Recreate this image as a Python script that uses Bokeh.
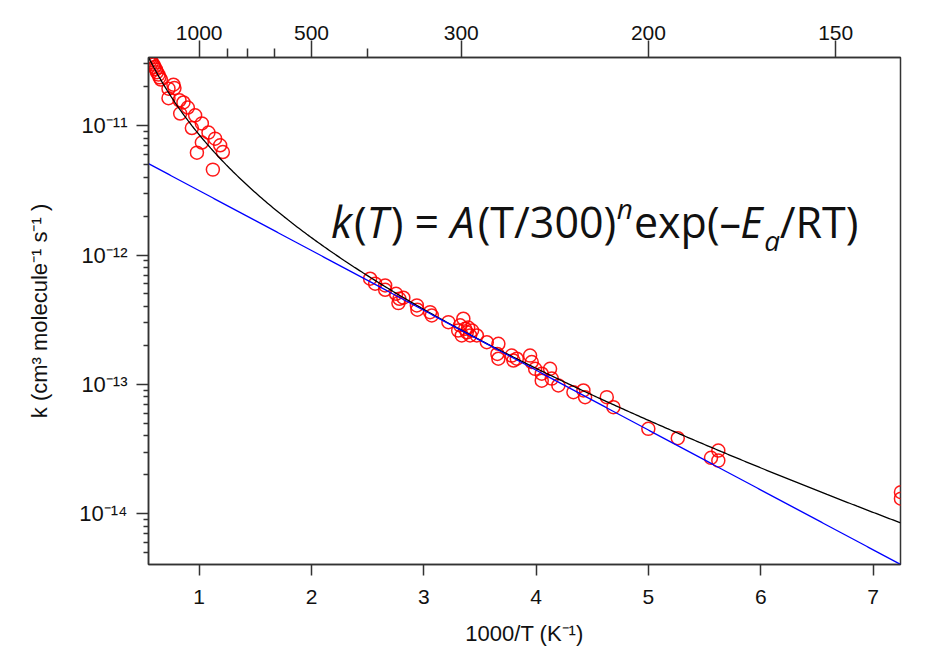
import numpy as np
from bokeh.plotting import figure
from bokeh.models import Range1d, LinearAxis, FixedTicker, Label, CustomJSTickFormatter
from bokeh.embed import file_html
from bokeh.resources import INLINE

# ---------------- data ----------------
inv_T = [0.549, 0.558, 0.570, 0.579, 0.593, 0.602, 0.615, 0.624, 0.638, 0.647, 0.659,
         0.727, 0.771, 0.780, 0.727, 0.825, 0.860, 0.899, 0.831, 0.964, 1.024, 0.935,
         1.083, 1.142, 1.024, 1.187, 1.211, 0.980, 1.122,
         2.522, 2.567, 2.656, 2.656, 2.753, 2.783, 2.818, 2.774, 2.938, 2.943, 3.056,
         3.071, 3.219, 3.352, 3.323, 3.368, 3.383, 3.412, 3.338, 3.472, 3.306, 3.395,
         3.430, 3.561, 3.664, 3.655, 3.664, 3.783, 3.828, 3.798, 3.946, 3.961, 3.991,
         4.050, 4.050, 4.124, 4.139, 4.198, 4.332, 4.421, 4.436, 4.629, 4.688,
         4.999, 5.261, 5.622, 5.557, 5.622, 7.248, 7.248]
k_obs = [3.39e-11, 3.30e-11, 3.20e-11, 3.07e-11, 2.96e-11, 2.84e-11, 2.72e-11, 2.59e-11,
         2.48e-11, 2.36e-11, 2.27e-11,
         1.93e-11, 2.07e-11, 1.95e-11, 1.63e-11, 1.57e-11, 1.51e-11, 1.38e-11, 1.24e-11,
         1.20e-11, 1.04e-11, 9.58e-12, 8.83e-12, 7.93e-12, 7.40e-12, 7.05e-12, 6.25e-12,
         6.18e-12, 4.57e-12,
         6.56e-13, 6.00e-13, 5.82e-13, 5.39e-13, 5.02e-13, 4.59e-13, 4.68e-13, 4.25e-13,
         4.08e-13, 3.78e-13, 3.62e-13, 3.41e-13, 3.03e-13, 3.22e-13, 2.86e-13, 2.69e-13,
         2.53e-13, 2.39e-13, 2.39e-13, 2.39e-13, 2.61e-13, 2.75e-13, 2.61e-13,
         2.12e-13, 2.06e-13, 1.72e-13, 1.58e-13, 1.67e-13, 1.58e-13, 1.53e-13, 1.67e-13,
         1.49e-13, 1.32e-13, 1.21e-13, 1.07e-13, 1.32e-13, 1.11e-13, 9.82e-14, 8.71e-14,
         8.98e-14, 7.97e-14, 7.97e-14, 6.67e-14,
         4.54e-14, 3.84e-14, 3.08e-14, 2.71e-14, 2.58e-14, 1.47e-14, 1.31e-14]

# fitted expressions: k(T) = A (T/300)^n exp(-Ea/RT)  (black) and Arrhenius (blue)
A_mod, n_mod, EaR_mod = 1.365e-12, 1.93, 494.0
A_arr, EaR_arr = 9.12e-12, 1065.0

x_lo, x_hi = 0.549, 7.244
y_lo, y_hi = 4.06e-15, 3.36e-11

bottom_ticks = [1, 2, 3, 4, 5, 6, 7]
top_T_major = [1000, 500, 300, 200, 150]
top_T_minor = [800, 700, 600, 400]
y_decades = [-14, -13, -12, -11]

x_title = "1000/T (K\u207b\u00b9)"
y_title = "k (cm\u00b3 molecule\u207b\u00b9 s\u207b\u00b9 )"

# ---------------- figure ----------------
FL, FB = 148, 564  # frame left / bottom in picture pixels
p = figure(width=920, height=653, x_range=Range1d(x_lo, x_hi), y_range=Range1d(y_lo, y_hi),
           y_axis_type="log", output_backend="svg", toolbar_location=None,
           min_border_left=148, min_border_right=20, min_border_top=57, min_border_bottom=89)
p.grid.visible = False
p.outline_line_color = "#333333"
p.outline_line_width = 1.5
p.background_fill_color = "white"
p.border_fill_color = "white"

x_curve = np.linspace(x_lo, x_hi, 400)
T_curve = 1000.0 / x_curve
k_mod = A_mod * (T_curve / 300.0) ** n_mod * np.exp(-EaR_mod / T_curve)
k_arr = A_arr * np.exp(-EaR_arr / T_curve)

p.scatter(inv_T, k_obs, marker="circle", size=13, fill_color=None, line_color="#ff0000",
          line_width=1.5, line_alpha=0.9)
p.line(x_curve, k_mod, line_color="black", line_width=1.3)
p.line(x_curve, k_arr, line_color="#0000ff", line_width=1.3)

AX = "#333333"
TX = "#111111"
FONT = "Liberation Sans"

xa = p.xaxis[0]
xa.ticker = FixedTicker(ticks=bottom_ticks, minor_ticks=[])
xa.axis_line_color = AX
xa.axis_line_width = 1.5
xa.major_tick_line_color = AX
xa.major_tick_line_width = 1.5
xa.major_tick_out = 11
xa.major_tick_in = 0
xa.major_label_text_font = FONT
xa.major_label_text_font_size = "21px"
xa.major_label_text_color = TX
xa.major_label_standoff = 14
xa.axis_label = x_title
xa.axis_label_text_font = FONT
xa.axis_label_text_font_size = "22px"
xa.axis_label_text_font_style = "normal"
xa.axis_label_text_color = TX
xa.axis_label_standoff = 14

sup_js = """
const sup = {'-':'\u207b','0':'\u2070','1':'\u00b9','2':'\u00b2','3':'\u00b3','4':'\u2074',
             '5':'\u2075','6':'\u2076','7':'\u2077','8':'\u2078','9':'\u2079'};
const e = Math.round(Math.log10(tick));
return '10' + String(e).split('').map(c => sup[c]).join('');
"""
ya = p.yaxis[0]
ya.ticker = FixedTicker(ticks=[10.0 ** d for d in y_decades],
                        minor_ticks=[m * 10.0 ** d for d in range(-15, -10) for m in range(2, 10)])
ya.formatter = CustomJSTickFormatter(code=sup_js)
ya.axis_line_color = AX
ya.axis_line_width = 1.5
ya.major_tick_line_color = AX
ya.major_tick_line_width = 1.5
ya.minor_tick_line_color = AX
ya.minor_tick_line_width = 1.5
ya.major_tick_out = 12
ya.major_tick_in = 0
ya.minor_tick_out = 5
ya.minor_tick_in = 0
ya.major_label_text_font = FONT
ya.major_label_text_font_size = "22px"
ya.major_label_text_color = TX
ya.major_label_standoff = 9
ya.axis_label = y_title
ya.axis_label_text_font = FONT
ya.axis_label_text_font_size = "22px"
ya.axis_label_text_font_style = "normal"
ya.axis_label_text_color = TX
ya.axis_label_standoff = 24

top = LinearAxis(ticker=FixedTicker(ticks=[1000.0 / T for T in top_T_major],
                                    minor_ticks=[1000.0 / T for T in top_T_minor]),
                 formatter=CustomJSTickFormatter(code="return String(Math.round(1000/tick))"))
top.axis_line_color = AX
top.axis_line_width = 1.5
top.major_tick_line_color = AX
top.major_tick_line_width = 1.5
top.minor_tick_line_color = AX
top.minor_tick_line_width = 1.5
top.major_tick_out = 17
top.major_tick_in = 0
top.minor_tick_out = 9
top.minor_tick_in = 0
top.major_label_text_font = FONT
top.major_label_text_font_size = "21px"
top.major_label_text_color = TX
top.major_label_standoff = 1
p.add_layout(top, "above")

# formula annotation (inside the frame)
W = {'k': .531, '(': .295, ')': .295, 'T': .561, ' ': .26, '=': .572, 'A': .635, '/': .368,
     '3': .572, '0': .572, 'n': .614, 'e': .561, 'x': .505, 'p': .613, '–': .5, 'E': .556,
     'a': .556, 'R': .619}
F = 43.0
FF = "Open Sans"
pieces = [("k", True, "n"), ("(", False, "n"), ("T", True, "n"), (") = ", False, "n"),
          ("A", True, "n"), ("(T/300)", False, "n"), ("n", True, "sup"), ("exp(–", False, "n"),
          ("E", True, "n"), ("a", True, "sub"), ("/RT)", False, "n")]
X = 330.6
Y0 = 238.0
for txt, it, kind in pieces:
    size = F if kind == "n" else F * 0.65
    Yp = Y0 - 19 if kind == "sup" else (Y0 + 13 if kind == "sub" else Y0)
    p.add_layout(Label(x=x_lo, y=y_lo, x_offset=X - FL, y_offset=FB - Yp + 0.40 * size,
                       text=txt, text_font=FF, text_font_size=f"{size:.1f}px",
                       text_font_style="italic" if it else "normal",
                       text_align="left", text_baseline="alphabetic", text_color=TX))
    X += sum(W[c] for c in txt) * size

with open("out.html", "w", encoding="utf-8") as f:
    f.write(file_html(p, INLINE))
